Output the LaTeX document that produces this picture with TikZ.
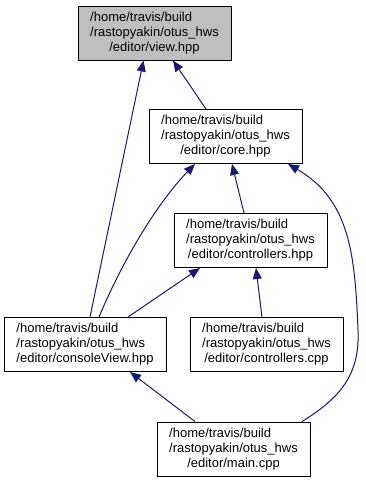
\documentclass[tikz,border=0pt]{standalone}
\usepackage{fontspec}
\setmainfont{Liberation Sans}
\usetikzlibrary{arrows.meta}
\definecolor{edgeblue}{HTML}{191970}
\definecolor{rootgray}{HTML}{BFBFBF}
% three line file label, last line centred
\newcommand\fname[1]{\begin{tabular}{@{}l@{}}/home/travis/build\\/rastopyakin/otus\_hws\\\multicolumn{1}{@{}c@{}}{/editor/#1}\end{tabular}}

\begin{document}
\begin{tikzpicture}[x=1pt,y=-1pt,
    file/.style={draw=black, line width=1pt, rectangle, inner sep=0pt,
      minimum width=153pt, minimum height=54pt, font=\fontsize{13}{15}\selectfont},
    dep/.style={draw=edgeblue, line width=1pt, -{Triangle[length=11pt,width=9pt]}}]
  \useasboundingbox (0,0) rectangle (366,483);

  \node[file, fill=rootgray] (view) at (154.5,33) {\fname{view.hpp}};
  \node[file] (core) at (225.5,136.5) {\fname{core.hpp}};
  \node[file] (ctrlh) at (250.5,240.5) {\fname{controllers.hpp}};
  \node[file, minimum width=162pt] (console) at (85,344.5) {\fname{consoleView.hpp}};
  \node[file] (ctrlc) at (266.5,344.5) {\fname{controllers.cpp}};
  \node[file] (main) at (233.5,449) {\fname{main.cpp}};

  \draw[dep] ([xshift=5pt]console.north) -- ([xshift=-11pt]view.south);
  \draw[dep] ([xshift=-19.5pt]core.north) -- ([xshift=18.5pt]view.south);
  \draw[dep] ([xshift=14pt]console.north) .. controls (125,255) and (160,200) .. ([xshift=-30.5pt]core.south);
  \draw[dep] ([xshift=-6.5pt]ctrlh.north) -- ([xshift=6.5pt]core.south);
  \draw[dep] ([xshift=68.5pt]main.north) .. controls (340,398) and (360,375) .. (358,330)
    .. controls (355,255) and (350,200) .. ([xshift=62.5pt]core.south);
  \draw[dep] ([xshift=43pt]console.north) -- ([xshift=-50.5pt]ctrlh.south);
  \draw[dep] ([xshift=-4.5pt]ctrlc.north) -- ([xshift=5.5pt]ctrlh.south);
  \draw[dep] ([xshift=-38.5pt]main.north) -- ([xshift=45pt]console.south);
\end{tikzpicture}
\end{document}
